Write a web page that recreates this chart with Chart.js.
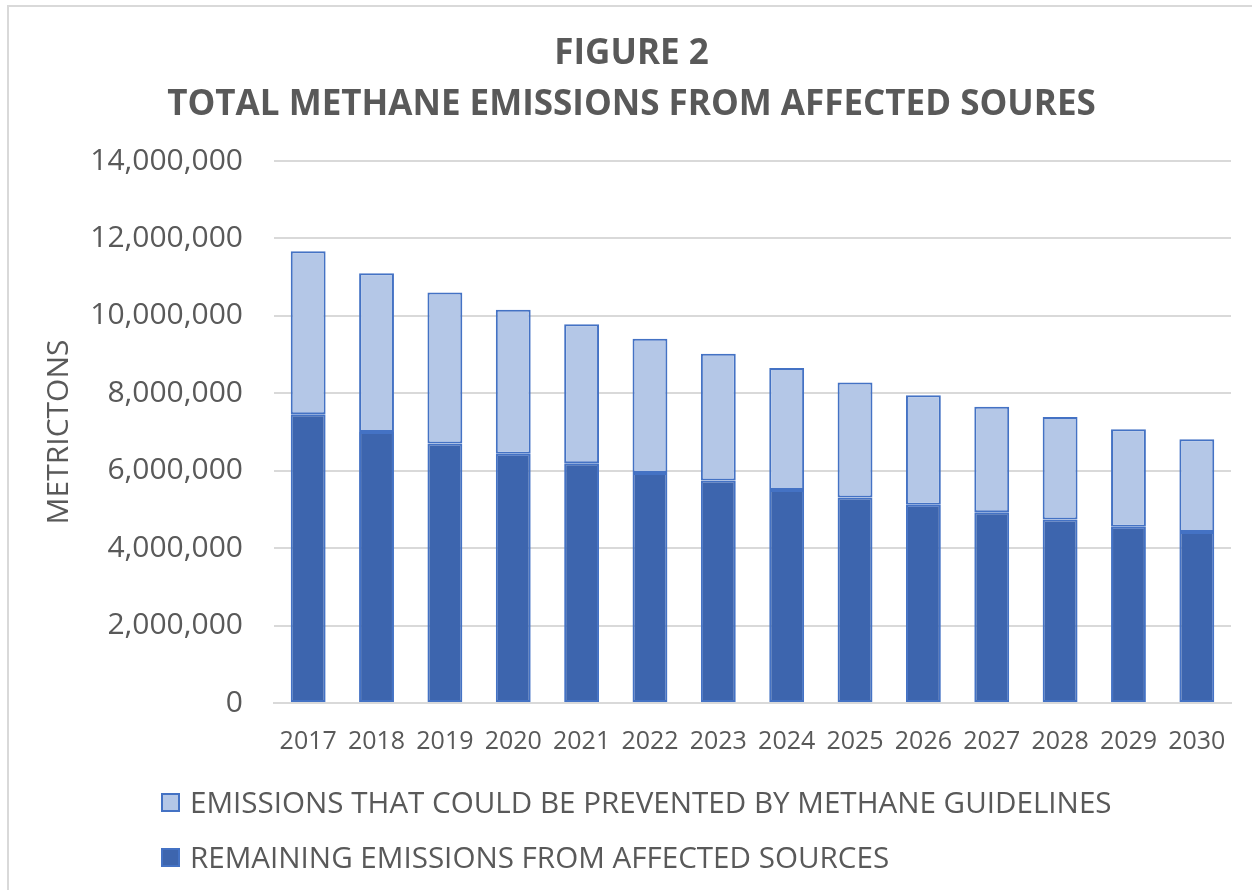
<!DOCTYPE html>
<html>
<head>
<meta charset="utf-8">
<title>Figure 2 - Total Methane Emissions</title>
<script src="https://cdn.jsdelivr.net/npm/chart.js@4/dist/chart.umd.min.js"></script>
<style>
    html, body {
        margin: 0;
        padding: 0;
        background: #ffffff;
    }
    #wrap {
        position: relative;
        width: 1252px;
        height: 890px;
        overflow: hidden;
        font-family: 'Open Sans', sans-serif;
    }
    .frame {
        position: absolute;
        left: 7px;
        top: 5px;
        width: 1300px;
        height: 1000px;
        border-left: 2px solid #d9d9d9;
        border-top: 2px solid #d9d9d9;
    }
    #chart {
        position: absolute;
        left: 0;
        top: 0;
    }
    .legend-item {
        position: absolute;
        left: 161px;
        display: flex;
        align-items: center;
        color: #595959;
        font-size: 29.6px;
        line-height: 1;
        white-space: nowrap;
    }
    .legend-box {
        width: 15px;
        height: 15px;
        border: 2px solid #4472c4;
        margin-right: 10px;
    }
</style>
</head>
<body>
<div id="wrap">
    <div class="frame"></div>
    <canvas id="chart" width="1252" height="890"></canvas>
    <div id="legend"></div>
</div>
<script>
const years = ['2017', '2018', '2019', '2020', '2021', '2022', '2023', '2024', '2025', '2026', '2027', '2028', '2029', '2030'];

// metric tons
const remainingEmissions = [7460000, 7000000, 6700000, 6440000, 6190000, 5940000, 5750000, 5500000, 5310000, 5120000, 4930000, 4740000, 4550000, 4420000];
const preventedEmissions = [4210000, 4100000, 3900000, 3720000, 3590000, 3470000, 3270000, 3150000, 2970000, 2830000, 2720000, 2650000, 2520000, 2390000];

const titleLines = ['FIGURE 2', 'TOTAL METHANE EMISSIONS FROM AFFECTED SOURES'];
const yAxisLabel = 'METRICTONS';
const yMax = 14000000;
const yStep = 2000000;

const textColor = '#595959';
const gridColor = '#d9d9d9';

const ctx = document.getElementById('chart').getContext('2d');
const chart = new Chart(ctx, {
    type: 'bar',
    data: {
        labels: years,
        datasets: [
            {
                label: 'REMAINING EMISSIONS FROM AFFECTED SOURCES',
                data: remainingEmissions,
                backgroundColor: '#3d65ae',
                borderColor: '#4472c4',
                borderWidth: 2,
                borderSkipped: false
            },
            {
                label: 'EMISSIONS THAT COULD BE PREVENTED BY METHANE GUIDELINES',
                data: preventedEmissions,
                backgroundColor: '#b4c7e7',
                borderColor: '#4472c4',
                borderWidth: 2,
                borderSkipped: false
            }
        ]
    },
    options: {
        responsive: false,
        animation: false,
        layout: {
            padding: { left: 32, right: 21, top: 0, bottom: 0 }
        },
        datasets: {
            bar: {
                categoryPercentage: 1,
                barPercentage: 0.51
            }
        },
        plugins: {
            legend: { display: false },
            tooltip: { enabled: false },
            title: {
                display: true,
                text: titleLines,
                color: textColor,
                font: { family: 'Open Sans', size: 35, weight: 'bold', lineHeight: 1.457 },
                padding: { top: 29, bottom: 30 }
            }
        },
        scales: {
            x: {
                stacked: true,
                grid: { display: false },
                border: { display: true, color: gridColor, width: 2 },
                ticks: {
                    color: textColor,
                    font: { family: 'Open Sans', size: 25 },
                    padding: 16,
                    maxRotation: 0,
                    autoSkip: false
                },
                afterFit: function(scale) {
                    scale.height = 187;
                }
            },
            y: {
                stacked: true,
                min: 0,
                max: yMax,
                grid: { color: gridColor, lineWidth: 2, drawTicks: false },
                border: { display: false },
                ticks: {
                    stepSize: yStep,
                    color: textColor,
                    font: { family: 'Open Sans', size: 30 },
                    padding: 31,
                    callback: value => value.toLocaleString('en-US')
                },
                title: {
                    display: true,
                    text: yAxisLabel,
                    color: textColor,
                    font: { family: 'Open Sans', size: 30 },
                    padding: { top: 9, bottom: 0 }
                },
                afterFit: function(scale) {
                    scale.width = 242;
                }
            }
        }
    }
});

// Legend is stacked and left aligned like the original, so build it in HTML
function buildLegend() {
    const legend = document.getElementById('legend');
    const rowCenters = [802, 857];
    const items = chart.data.datasets.slice().reverse();
    items.forEach((ds, i) => {
        const item = document.createElement('div');
        item.className = 'legend-item';
        item.style.top = (rowCenters[i] - 15) + 'px';
        item.style.height = '30px';
        item.innerHTML = `<span class="legend-box" style="background:${ds.backgroundColor}"></span><span>${ds.label}</span>`;
        legend.appendChild(item);
    });
}

buildLegend();
</script>
</body>
</html>
